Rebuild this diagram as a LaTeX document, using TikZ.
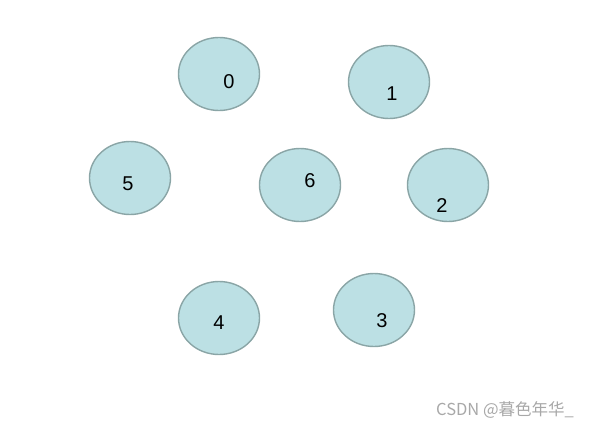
\documentclass[tikz,border=0pt]{standalone}
\usepackage{fontspec}
\setmainfont{Liberation Sans}
\newfontfamily\cjk{Noto Sans CJK SC}
\usetikzlibrary{shapes.geometric}
\definecolor{vfill}{HTML}{BCE0E4}
\definecolor{vline}{HTML}{8AA5A6}
\definecolor{wmark}{HTML}{A8A8A8}
\tikzset{
  vert/.style={ellipse, draw=vline, fill=vfill, line width=1.4pt,
    minimum width=81pt, minimum height=73pt, inner sep=0pt},
  vlabel/.style={font=\fontsize{20}{20}\selectfont, inner sep=0pt}
}
\begin{document}
\begin{tikzpicture}[x=1pt, y=-1pt]
    \useasboundingbox (0,0) rectangle (603,429);
    % Các đỉnh (hình elip)
    \node[vert] (v0) at (219,74) {};
    \node[vert] (v1) at (389,82) {};
    \node[vert] (v5) at (130,178) {};
    \node[vert] (v6) at (300,185) {};
    \node[vert] (v2) at (448,185) {};
    \node[vert] (v4) at (219,318) {};
    \node[vert] (v3) at (374,310) {};

    % Nhãn số, lệch khỏi tâm
    \node[vlabel] (l0) at (229,82) {0};
    \node[vlabel] (l1) at (392,94) {1};
    \node[vlabel] (l5) at (128,184) {5};
    \node[vlabel] (l6) at (310,181) {6};
    \node[vlabel] (l2) at (442,206) {2};
    \node[vlabel] (l4) at (219,323) {4};
    \node[vlabel] (l3) at (382,321) {3};

    % Dấu nước
    \node[wmark, font=\cjk\fontsize{16.5}{16.5}\selectfont, inner sep=0pt, anchor=west] (wm) at (436,410) {CSDN @暮色年华\_};
\end{tikzpicture}
\end{document}
